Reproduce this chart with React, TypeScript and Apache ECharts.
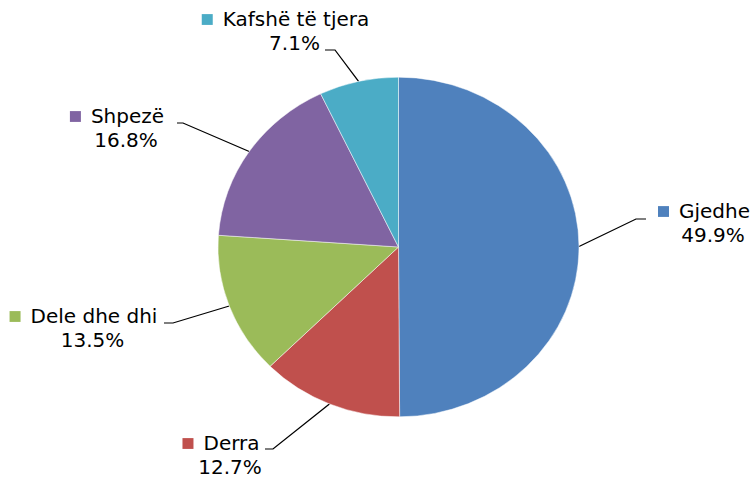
import React, { useEffect, useRef } from 'react';
import * as echarts from 'echarts';

// ---- data ----
const categories: string[] = ['Gjedhe', 'Derra', 'Dele dhe dhi', 'Shpezë', 'Kafshë të tjera'];
const shares: number[] = [49.9, 12.7, 13.5, 16.8, 7.1];
const colors: string[] = ['#4F81BD', '#C0504D', '#9BBB59', '#8064A2', '#4BACC6'];

// ---- layout (screen px) ----
const labelSpots = [
  { cx: 704, base: 218, elbowX: 636, elbowY: 219, endX: 646 },
  { cx: 221, base: 450, elbowX: 273, elbowY: 449, endX: 265 },
  { cx: 83.5, base: 323, elbowX: 173, elbowY: 323, endX: 164 },
  { cx: 117, base: 123, elbowX: 183, elbowY: 123, endX: 177 },
  { cx: 285.5, base: 26, elbowX: 335, elbowY: 50, endX: 325 },
];

const W = 753;
const VIEW_H = 479;
const H = 509;
const S = VIEW_H / H; // vertical squeeze to get the elliptical pie
const CX = 398.5;
const CY = 247 / S;
const R = 180.5;
const LH = 24.5 / S;
const BASE_OFF = 6.9;

function sliceEdge(i: number): number[] {
  const total = shares.reduce((a, b) => a + b, 0);
  let before = 0;
  for (let k = 0; k < i; k++) before += shares[k];
  const mid = ((before + shares[i] / 2) / total) * Math.PI * 2;
  return [CX + R * Math.sin(mid), CY - R * Math.cos(mid)];
}

export default function App() {
  const ref = useRef<HTMLDivElement>(null);
  useEffect(() => {
    if (!ref.current) return;
    const chart = echarts.init(ref.current, null, { renderer: 'svg' });
    const rich: any = {
      n: { fontSize: 20, fontFamily: 'DejaVu Sans', color: '#000', lineHeight: LH, padding: [0, 0, 0, 10] },
      p: { fontSize: 20, fontFamily: 'DejaVu Sans', color: '#000', lineHeight: LH, padding: [0, 0, 0, 18] },
    };
    categories.forEach((_, i) => {
      rich['m' + i] = { width: 11, height: 11.5, backgroundColor: colors[i] };
    });
    chart.setOption({
      animation: false,
      series: [
        {
          type: 'pie',
          center: [CX, CY],
          radius: [0, R],
          startAngle: 90,
          clockwise: true,
          avoidLabelOverlap: false,
          data: categories.map((name, i) => ({
            name,
            value: shares[i],
            itemStyle: { color: colors[i] },
          })),
          itemStyle: { borderColor: 'rgba(255,255,255,0.5)', borderWidth: 1 },
          emphasis: { disabled: true },
          label: {
            show: true,
            position: 'outside',
            fontFamily: 'DejaVu Sans',
            fontSize: 20,
            color: '#000',
            formatter: (p: any) => `{m${p.dataIndex}|}{n|${p.name}}\n{p|${Number(p.value).toFixed(1)}%}`,
            rich,
          },
          labelLine: {
            show: true,
            smooth: false,
            lineStyle: { color: '#000', width: 1.3 },
          },
          labelLayout: (params: any) => {
            const i = params.dataIndex;
            const sp = labelSpots[i];
            return {
              x: sp.cx,
              y: sp.base / S - BASE_OFF - LH / 2,
              align: 'center',
              verticalAlign: 'top',
              labelLinePoints: [sliceEdge(i), [sp.elbowX, sp.elbowY / S], [sp.endX, sp.elbowY / S]],
            };
          },
        },
      ],
    });
    return () => chart.dispose();
  }, []);
  return (
    <div style={{ position: 'fixed', left: 0, top: 0, width: W, height: VIEW_H, overflow: 'hidden', background: '#fff' }}>
      <div style={{ width: W, height: H, transform: `scaleY(${S})`, transformOrigin: 'top left' }}>
        <div ref={ref} style={{ width: W, height: H }} />
      </div>
    </div>
  );
}
